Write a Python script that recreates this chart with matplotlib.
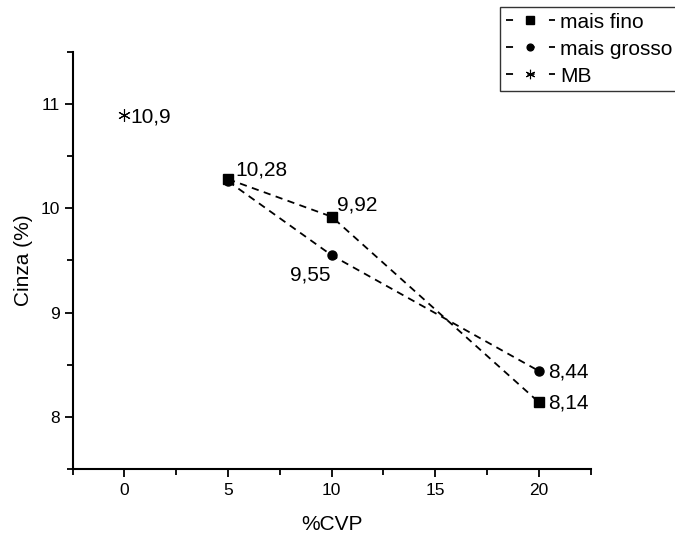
import matplotlib.pyplot as plt
from matplotlib.ticker import MultipleLocator

plt.rcParams['font.family'] = ['Liberation Sans', 'DejaVu Sans']

cvp = [5, 10, 20]
fino = [10.28, 9.92, 8.14]
grosso = [10.26, 9.55, 8.44]
mb_x = [0]
mb_y = [10.9]

rotulos_fino = ['10,28', '9,92', '8,14']
rotulos_grosso = ['', '9,55', '8,44']
offs_fino = [(5, 6.5), (3.6, 8.6), (6.5, -0.5)]
offs_grosso = [(0, 0), (-1, -14), (6.5, -0.5)]
ha_grosso = ['left', 'right', 'left']


fig = plt.figure(figsize=(6.75, 5.35), dpi=100)
ax = fig.add_axes([0.1077, 0.1234, 0.7674, 0.7794])

tracejado = (0, (4, 3))
ax.plot(cvp, fino, color='black', linestyle=tracejado, linewidth=1.3,
        marker='s', markersize=7, label='mais fino')
ax.plot(cvp, grosso, color='black', linestyle=tracejado, linewidth=1.3,
        marker='o', markersize=6.5, label='mais grosso')
ax.plot(mb_x, mb_y, color='black', linestyle=tracejado, linewidth=1.3,
        marker=(6, 2, 0), markersize=9, markeredgewidth=0.8, label='MB')

for x, y, t, o in zip(cvp, fino, rotulos_fino, offs_fino):
    ax.annotate(t, (x, y), xytext=o, textcoords='offset points',
                fontsize=15, va='center')
for x, y, t, o, h in zip(cvp, grosso, rotulos_grosso, offs_grosso, ha_grosso):
    ax.annotate(t, (x, y), xytext=o, textcoords='offset points',
                fontsize=15, va='center', ha=h)
ax.annotate('10,9', (mb_x[0], mb_y[0]), xytext=(4, -1.5), textcoords='offset points',
            fontsize=15, va='center')

ax.set_xlim(-2.5, 22.5)
ax.set_ylim(7.5, 11.5)
ax.xaxis.set_major_locator(MultipleLocator(5))
ax.xaxis.set_minor_locator(MultipleLocator(2.5))
ax.yaxis.set_minor_locator(MultipleLocator(0.5))
ax.set_yticks([8, 9, 10, 11])
ax.tick_params(which='both', direction='out', width=1.3, labelsize=12.5)
ax.tick_params(which='major', length=6)
ax.tick_params(which='minor', length=4)
ax.tick_params(axis='x', pad=4)
ax.spines['top'].set_visible(False)
ax.spines['right'].set_visible(False)
ax.spines['left'].set_linewidth(1.5)
ax.spines['bottom'].set_linewidth(1.5)

ax.set_xlabel('%CVP', fontsize=15, labelpad=12)
ax.set_ylabel('Cinza (%)', fontsize=15, labelpad=5)

leg = fig.legend(loc='upper left', bbox_to_anchor=(0.7407, 0.987), fontsize=15,
                 frameon=True, fancybox=False, edgecolor='black', handlelength=2.35,
                 handletextpad=0.25, borderpad=0.28, labelspacing=0.38, borderaxespad=0,
                 markerscale=0.75)
leg.get_frame().set_linewidth(1.0)
for linha in leg.get_lines():
    linha.set_linestyle((0, (3.9, 8.0)))

fig.savefig('out.png', dpi=100)
